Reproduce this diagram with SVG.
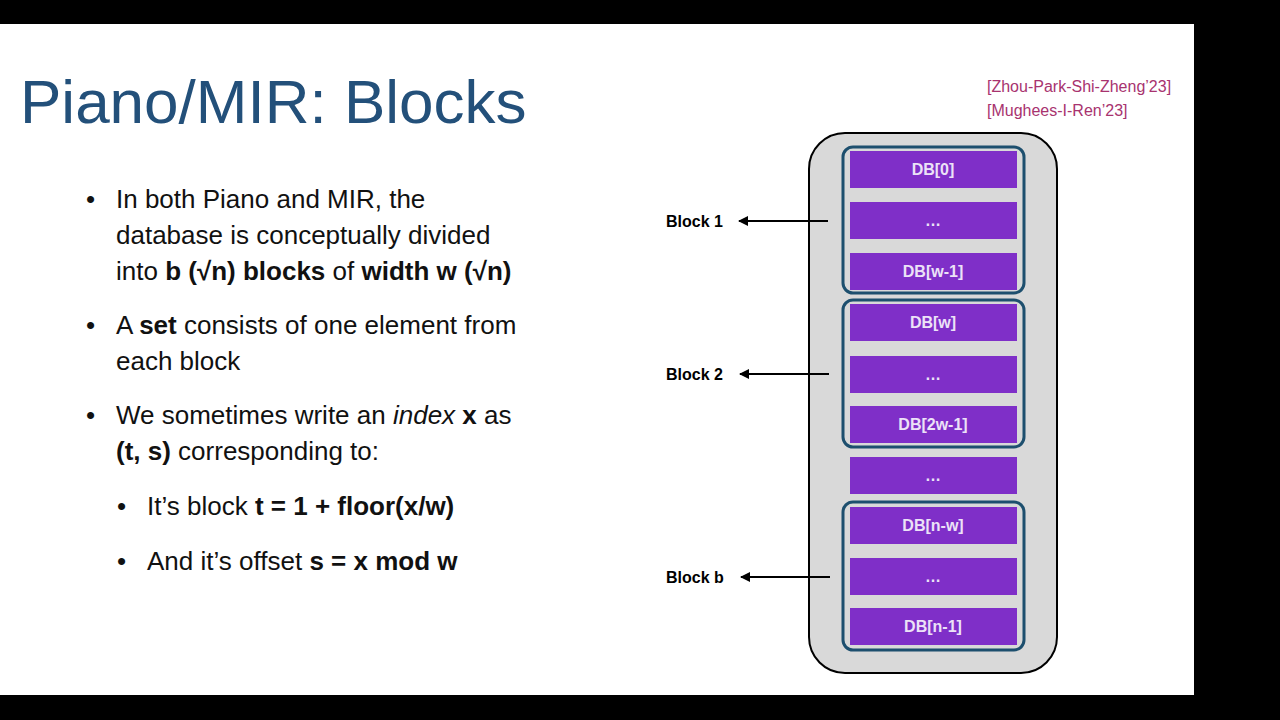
<svg xmlns="http://www.w3.org/2000/svg" width="1280" height="720" viewBox="0 0 1280 720">
<style>
.b{font-family:"Liberation Sans",Arial,sans-serif;font-size:26px;fill:#111}
.bar{fill:#7f2fc8}
.bt{font-family:"Liberation Sans",Arial,sans-serif;font-size:16px;font-weight:bold;fill:#ece2f7;text-anchor:middle}
.frame{fill:none;stroke:#1d4f6e;stroke-width:3}
.lab{font-family:"Liberation Sans",Arial,sans-serif;font-size:16px;font-weight:bold;fill:#000}
.cite{font-family:"Liberation Sans",Arial,sans-serif;font-size:16px;fill:#a8336f}
</style>
<defs><marker id="ah" viewBox="0 0 10 10" refX="9" refY="5" markerWidth="10" markerHeight="10" markerUnits="userSpaceOnUse" orient="auto"><path d="M0,0L10,5L0,10z" fill="#000"/></marker></defs>
<rect width="1280" height="720" fill="#000"/>
<rect x="0" y="24" width="1194" height="671" fill="#fff"/>
<text x="20" y="123" font-family="'Liberation Sans',Arial,sans-serif" font-size="62" fill="#23507a">Piano/MIR: Blocks</text>
<text class="cite" x="987" y="92">[Zhou-Park-Shi-Zheng’23]</text>
<text class="cite" x="987" y="116">[Mughees-I-Ren’23]</text>
<g class="b">
<text x="86" y="208">•</text><text x="116" y="208">In both Piano and MIR, the</text>
<text x="116" y="244">database is conceptually divided</text>
<text x="116" y="280">into <tspan font-weight="bold">b (√n) blocks</tspan> of <tspan font-weight="bold">width w (√n)</tspan></text>
<text x="86" y="334">•</text><text x="116" y="334">A <tspan font-weight="bold">set</tspan> consists of one element from</text>
<text x="116" y="370">each block</text>
<text x="86" y="424">•</text><text x="116" y="424">We sometimes write an <tspan font-style="italic">index</tspan> <tspan font-weight="bold">x</tspan> as</text>
<text x="116" y="460"><tspan font-weight="bold">(t, s)</tspan> corresponding to:</text>
<text x="117" y="515">•</text><text x="147" y="515">It’s block <tspan font-weight="bold">t = 1 + floor(x/w)</tspan></text>
<text x="117" y="570">•</text><text x="147" y="570">And it’s offset <tspan font-weight="bold">s = x mod w</tspan></text>
</g>
<g id="db">
<rect x="809" y="133" width="248" height="540" rx="36" fill="#d9d9d9" stroke="#000" stroke-width="2"/>
<rect class="bar" x="850" y="151" width="167" height="37"/><text class="bt" x="933" y="175">DB[0]</text>
<rect class="bar" x="850" y="202" width="167" height="37"/><text class="bt" x="933" y="226">…</text>
<rect class="bar" x="850" y="253" width="167" height="37"/><text class="bt" x="933" y="277">DB[w-1]</text>
<rect class="bar" x="850" y="304" width="167" height="37"/><text class="bt" x="933" y="328">DB[w]</text>
<rect class="bar" x="850" y="356" width="167" height="37"/><text class="bt" x="933" y="380">…</text>
<rect class="bar" x="850" y="406" width="167" height="37"/><text class="bt" x="933" y="430">DB[2w-1]</text>
<rect class="bar" x="850" y="457" width="167" height="37"/><text class="bt" x="933" y="481">…</text>
<rect class="bar" x="850" y="507" width="167" height="37"/><text class="bt" x="933" y="531">DB[n-w]</text>
<rect class="bar" x="850" y="558" width="167" height="37"/><text class="bt" x="933" y="582">…</text>
<rect class="bar" x="850" y="608" width="167" height="37"/><text class="bt" x="933" y="632">DB[n-1]</text>
</g>
<g id="block1"><rect class="frame" x="843" y="147" width="181" height="146" rx="10"/><text class="lab" x="666" y="227">Block 1</text></g>
<g id="block2"><rect class="frame" x="843" y="300" width="181" height="147" rx="10"/><text class="lab" x="666" y="380">Block 2</text></g>
<g id="blockb"><rect class="frame" x="843" y="502" width="181" height="148" rx="10"/><text class="lab" x="666" y="583">Block b</text></g>
<g id="connectors" stroke="#000" stroke-width="2">
<line x1="828" y1="221" x2="739" y2="221" marker-end="url(#ah)"/>
<line x1="829" y1="374" x2="740" y2="374" marker-end="url(#ah)"/>
<line x1="830" y1="577" x2="741" y2="577" marker-end="url(#ah)"/>
</g>
</svg>
